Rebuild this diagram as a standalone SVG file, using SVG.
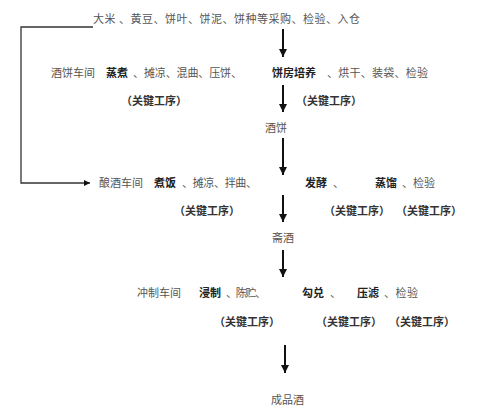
<svg xmlns="http://www.w3.org/2000/svg" width="500" height="409" viewBox="0 0 500 409">
<defs>
<marker id="ah" markerWidth="9" markerHeight="8" refX="8" refY="4" orient="auto" markerUnits="userSpaceOnUse">
<path d="M0,0 L8,4 L0,8 Z" fill="#111"/>
</marker>
<marker id="ahs" markerWidth="7" markerHeight="6" refX="6" refY="3" orient="auto" markerUnits="userSpaceOnUse">
<path d="M0,0 L6,3 L0,6 Z" fill="#111"/>
</marker>
<style>
text{font-family:"Noto Sans CJK SC","Noto Sans",sans-serif;font-size:11px;fill:#555}
.b{font-weight:bold;fill:#222}
.k{font-weight:bold;fill:#333;font-size:11px}
.c{stroke:#111;stroke-width:2;fill:none}
</style>
</defs>
<rect width="500" height="409" fill="#fff"/>
<g id="connectors">
<polyline points="93,27 21,27 21,183 90,183" fill="none" stroke="#333" stroke-width="1.3" marker-end="url(#ahs)"/>
<line class="c" x1="283" y1="29" x2="283" y2="57" marker-end="url(#ah)"/>
<line class="c" x1="283" y1="85" x2="283" y2="112" marker-end="url(#ah)"/>
<line class="c" x1="283" y1="138" x2="283" y2="175" marker-end="url(#ah)"/>
<line class="c" x1="283" y1="195" x2="283" y2="222" marker-end="url(#ah)"/>
<line class="c" x1="283" y1="250" x2="283" y2="277" marker-end="url(#ah)"/>
<line class="c" x1="285" y1="345" x2="285" y2="373" marker-end="url(#ah)"/>
</g>
<g id="n-purchase">
<text x="93" y="23" textLength="267">大米 、黄豆、饼叶、饼泥、饼种等采购、检验、入仓</text>
</g>
<g id="n-jiubing-workshop">
<text x="51" y="77">酒饼车间</text>
<text class="b" x="106" y="77">蒸煮</text>
<text x="133" y="77" textLength="109">、摊凉、混曲、压饼、</text>
<text class="b" x="272" y="77" textLength="44">饼房培养</text>
<text x="327" y="77" textLength="101">、烘干、装袋、检验</text>
<text class="k" x="121" y="105">（关键工序）</text>
<text class="k" x="296" y="105">（关键工序）</text>
</g>
<g id="n-jiubing">
<text x="265" y="132">酒饼</text>
</g>
<g id="n-niangjiu-workshop">
<text x="99" y="187">酿酒车间</text>
<text class="b" x="154" y="187">煮饭</text>
<text x="182" y="187" textLength="75">、摊凉、拌曲、</text>
<text class="b" x="305" y="187">发酵</text>
<text x="333" y="187">、</text>
<text class="b" x="375" y="187">蒸馏</text>
<text x="402" y="187" textLength="33">、检验</text>
<text class="k" x="174" y="215">（关键工序）</text>
<text class="k" x="324" y="215">（关键工序）</text>
<text class="k" x="396" y="215">（关键工序）</text>
</g>
<g id="n-zhaijiu">
<text x="272" y="242">斋酒</text>
</g>
<g id="n-chongzhi-workshop">
<text x="137" y="297">冲制车间</text>
<text class="b" x="199" y="297">浸制</text>
<text x="226" y="297" textLength="40">、陈贮、</text>
<text class="b" x="302" y="297">勾兑</text>
<text x="330" y="297">、</text>
<text class="b" x="357" y="297">压滤</text>
<text x="384" y="297" textLength="34">、检验</text>
<text class="k" x="214" y="326">（关键工序）</text>
<text class="k" x="316" y="326">（关键工序）</text>
<text class="k" x="389" y="326">（关键工序）</text>
</g>
<g id="n-product">
<text x="271" y="404">成品酒</text>
</g>
</svg>
